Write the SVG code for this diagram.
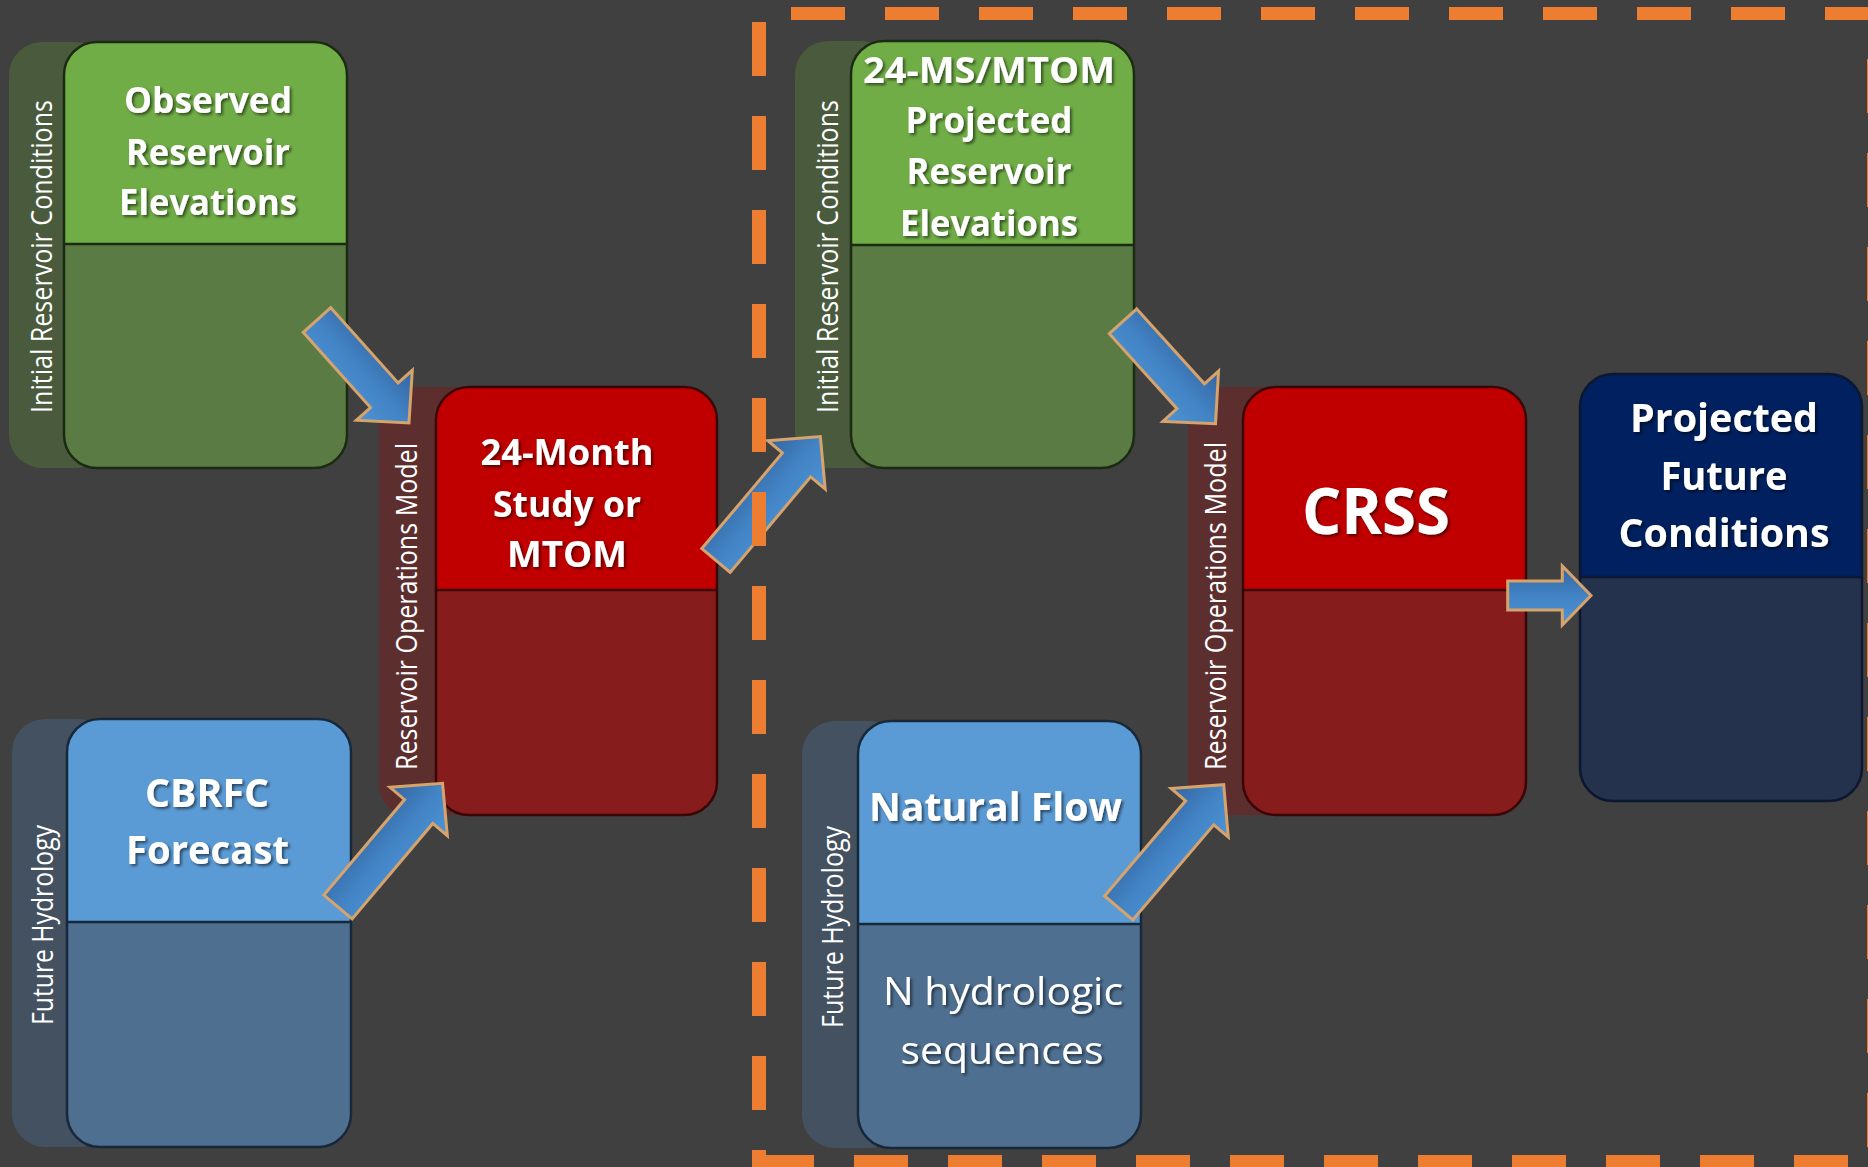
<svg xmlns="http://www.w3.org/2000/svg" width="1868" height="1167" viewBox="0 0 1868 1167">
<defs>
<style>
.t{font-family:"Open Sans","Noto Sans",sans-serif;fill:#ffffff;text-anchor:middle}
.b{font-weight:700}
.h{font-size:36px}
.v{font-size:28.5px;font-weight:400}
.sg{stroke:#1b2b12}
.sb{stroke:#17283a}
.sr{stroke:#3a0505}
.sn{stroke:#0c1730}
.ol{fill:none;stroke-width:2.5}
.dv{stroke-width:2.5}
.arr{fill:url(#ag);stroke:#d6a36c;stroke-width:3;stroke-linejoin:miter}
.dash{stroke:#ed7d31;fill:none;stroke-dasharray:54 40}
</style>
<linearGradient id="ag" x1="0" y1="0" x2="0" y2="1">
<stop offset="0" stop-color="#3364a0"/>
<stop offset="0.5" stop-color="#4283c4"/>
<stop offset="1" stop-color="#4c94d7"/>
</linearGradient>
<filter id="sh" x="-10%" y="-20%" width="120%" height="140%">
<feDropShadow dx="2" dy="2" stdDeviation="1.5" flood-color="#000000" flood-opacity="0.55"/>
</filter>
<path id="a138" d="M0,-18.5 H101 V-37.5 L138,0 L101,37.5 V18.5 H0 Z"/>
<path id="a162" d="M0,-18.5 H125 V-37.5 L162,0 L125,37.5 V18.5 H0 Z"/>
</defs>
<rect width="1868" height="1167" fill="#404040"/>

<g id="observed">
<rect x="9" y="42" width="100" height="426" rx="33" fill="#4a5a3d"/>
<rect x="64" y="42" width="283" height="426" rx="33" fill="#5a7b44"/>
<path d="M64,244 V75 A33,33 0 0 1 97,42 H314 A33,33 0 0 1 347,75 V244 Z" fill="#70ad47"/>
<line x1="64" y1="244" x2="347" y2="244" class="dv sg"/>
<rect x="64" y="42" width="283" height="426" rx="33" class="ol sg"/>
<text class="t v" transform="translate(52,256.5) rotate(-90)" textLength="313" lengthAdjust="spacingAndGlyphs">Initial Reservoir Conditions</text>
<g class="t b h" filter="url(#sh)">
<text x="208" y="113" textLength="168" lengthAdjust="spacingAndGlyphs">Observed</text>
<text x="208" y="165" textLength="164" lengthAdjust="spacingAndGlyphs">Reservoir</text>
<text x="208" y="215" textLength="178" lengthAdjust="spacingAndGlyphs">Elevations</text>
</g>
</g>

<g id="cbrfc">
<rect x="12" y="719" width="100" height="428" rx="33" fill="#435160"/>
<rect x="67" y="719" width="284" height="428" rx="33" fill="#4e6f90"/>
<path d="M67,922 V752 A33,33 0 0 1 100,719 H318 A33,33 0 0 1 351,752 V922 Z" fill="#5b9bd5"/>
<line x1="67" y1="922" x2="351" y2="922" class="dv sb"/>
<rect x="67" y="719" width="284" height="428" rx="33" class="ol sb"/>
<text class="t v" transform="translate(52.5,925) rotate(-90)" textLength="200" lengthAdjust="spacingAndGlyphs">Future Hydrology</text>
<g class="t b" font-size="39" filter="url(#sh)">
<text x="207" y="807" textLength="124" lengthAdjust="spacingAndGlyphs">CBRFC</text>
<text x="207.5" y="864" textLength="163" lengthAdjust="spacingAndGlyphs">Forecast</text>
</g>
</g>

<g id="month24">
<path d="M379,387 H480 V815 H409 A30,30 0 0 1 379,785 Z" fill="#5d2e2e"/>
<rect x="436" y="387" width="281" height="428" rx="33" fill="#871c1d"/>
<path d="M436,590 V420 A33,33 0 0 1 469,387 H684 A33,33 0 0 1 717,420 V590 Z" fill="#c00000"/>
<line x1="436" y1="590" x2="717" y2="590" class="dv sr"/>
<rect x="436" y="387" width="281" height="428" rx="33" class="ol sr"/>
<text class="t v" transform="translate(417,606.5) rotate(-90)" textLength="327" lengthAdjust="spacingAndGlyphs">Reservoir Operations Model</text>
<g class="t b h" filter="url(#sh)">
<text x="567" y="465" textLength="173" lengthAdjust="spacingAndGlyphs">24-Month</text>
<text x="567" y="517" textLength="148" lengthAdjust="spacingAndGlyphs">Study or</text>
<text x="567" y="567" textLength="120" lengthAdjust="spacingAndGlyphs">MTOM</text>
</g>
</g>

<g id="projected-elevations">
<rect x="795" y="41" width="100" height="427" rx="33" fill="#4a5a3d"/>
<rect x="851" y="41" width="283" height="427" rx="33" fill="#5a7b44"/>
<path d="M851,245 V74 A33,33 0 0 1 884,41 H1101 A33,33 0 0 1 1134,74 V245 Z" fill="#70ad47"/>
<line x1="851" y1="245" x2="1134" y2="245" class="dv sg"/>
<rect x="851" y="41" width="283" height="427" rx="33" class="ol sg"/>
<text class="t v" transform="translate(837.5,256.5) rotate(-90)" textLength="313" lengthAdjust="spacingAndGlyphs">Initial Reservoir Conditions</text>
<g class="t b h" filter="url(#sh)">
<text x="989" y="83" textLength="252" lengthAdjust="spacingAndGlyphs">24-MS/MTOM</text>
<text x="989" y="133" textLength="167" lengthAdjust="spacingAndGlyphs">Projected</text>
<text x="989" y="184" textLength="165" lengthAdjust="spacingAndGlyphs">Reservoir</text>
<text x="989" y="236" textLength="178" lengthAdjust="spacingAndGlyphs">Elevations</text>
</g>
</g>

<g id="natural-flow">
<rect x="802" y="721" width="100" height="427" rx="33" fill="#435160"/>
<rect x="858" y="721" width="283" height="427" rx="33" fill="#4e6f90"/>
<path d="M858,924 V754 A33,33 0 0 1 891,721 H1108 A33,33 0 0 1 1141,754 V924 Z" fill="#5b9bd5"/>
<line x1="858" y1="924" x2="1141" y2="924" class="dv sb"/>
<rect x="858" y="721" width="283" height="427" rx="33" class="ol sb"/>
<text class="t v" transform="translate(842.5,927) rotate(-90)" textLength="202" lengthAdjust="spacingAndGlyphs">Future Hydrology</text>
<g class="t" filter="url(#sh)">
<text class="b" x="995.5" y="821" font-size="40" textLength="253" lengthAdjust="spacingAndGlyphs">Natural Flow</text>
<text x="1003" y="1005" font-size="39" textLength="240" lengthAdjust="spacingAndGlyphs">N hydrologic</text>
<text x="1002" y="1064" font-size="39" textLength="203" lengthAdjust="spacingAndGlyphs">sequences</text>
</g>
</g>

<g id="crss">
<path d="M1188,387 H1290 V815 H1218 A30,30 0 0 1 1188,785 Z" fill="#5d2e2e"/>
<rect x="1243" y="387" width="283" height="428" rx="33" fill="#871c1d"/>
<path d="M1243,590 V420 A33,33 0 0 1 1276,387 H1493 A33,33 0 0 1 1526,420 V590 Z" fill="#c00000"/>
<line x1="1243" y1="590" x2="1526" y2="590" class="dv sr"/>
<rect x="1243" y="387" width="283" height="428" rx="33" class="ol sr"/>
<text class="t v" transform="translate(1226,606) rotate(-90)" textLength="328" lengthAdjust="spacingAndGlyphs">Reservoir Operations Model</text>
<text class="t b" x="1376" y="534" font-size="64" filter="url(#sh)" textLength="148" lengthAdjust="spacingAndGlyphs">CRSS</text>
</g>

<g id="future-conditions">
<rect x="1580" y="374" width="282" height="427" rx="33" fill="#24324d"/>
<path d="M1580,577 V407 A33,33 0 0 1 1613,374 H1829 A33,33 0 0 1 1862,407 V577 Z" fill="#002060"/>
<line x1="1580" y1="577" x2="1862" y2="577" class="dv sn"/>
<rect x="1580" y="374" width="282" height="427" rx="33" class="ol sn"/>
<g class="t b" font-size="40" filter="url(#sh)">
<text x="1724" y="432" textLength="188" lengthAdjust="spacingAndGlyphs">Projected</text>
<text x="1724" y="490" textLength="127" lengthAdjust="spacingAndGlyphs">Future</text>
<text x="1724" y="547" textLength="211" lengthAdjust="spacingAndGlyphs">Conditions</text>
</g>
</g>

<g id="connectors">
<use href="#a138" class="arr" transform="translate(317,320) rotate(48.2)"/>
<use href="#a162" class="arr" transform="translate(338,907) rotate(-49.8)"/>
<use href="#a162" class="arr" transform="translate(716,560.5) rotate(-49.9)"/>
<use href="#a138" class="arr" transform="translate(1123,321.3) rotate(47.9)"/>
<use href="#a162" class="arr" transform="translate(1118.7,908) rotate(-49.6)"/>
<path class="arr" d="M1507.7,581 H1562.3 V566 L1591,595.5 L1562.3,625 V610 H1507.7 Z"/>
</g>

<g id="boundary">
<line class="dash" x1="791" y1="13.5" x2="1868" y2="13.5" stroke-width="13"/>
<line class="dash" x1="759" y1="22" x2="759" y2="1168" stroke-width="14"/>
<line class="dash" x1="760" y1="1161.5" x2="1868" y2="1161.5" stroke-width="13"/>
<line class="dash" x1="1874" y1="59" x2="1874" y2="1167" stroke-width="14"/>
</g>
</svg>
